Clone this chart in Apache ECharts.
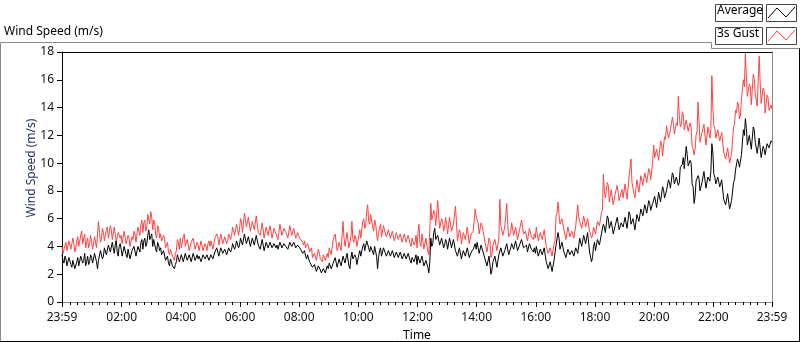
<!DOCTYPE html>
<html>
<head>
<meta charset="utf-8">
<script src="https://cdn.jsdelivr.net/npm/echarts@6/dist/echarts.min.js"></script>
<style>
html,body{margin:0;padding:0;background:#fff;overflow:hidden;}
#chart{width:800px;height:342px;}
</style>
</head>
<body>
<div id="chart"></div>
<script>
// Sampling grid: minutes since 00:00, first sample at 23:59 of the previous day, every 2 min
const sampleStartMin = -1;
const sampleStepMin = 2;

// Average wind speed (m/s), one row of 15 samples = 30 min
const avgSpeed = [
  3.4, 3.0, 2.8, 3.3, 3.1, 2.6, 2.6, 3.2, 3.3, 2.7, 2.5, 3.0, 2.9, 2.4, 2.3,
  2.9, 3.2, 2.6, 2.7, 3.3, 3.4, 2.8, 3.0, 3.5, 2.6, 2.9, 3.3, 2.7, 2.9, 3.4,
  3.2, 2.8, 2.9, 3.5, 3.4, 2.9, 2.4, 3.0, 3.1, 3.7, 3.6, 3.1, 3.3, 3.9, 4.0,
  3.4, 3.5, 4.1, 4.2, 3.6, 3.7, 4.3, 3.9, 3.5, 4.1, 4.4, 3.6, 3.3, 4.0, 4.2,
  3.8, 3.3, 3.4, 4.0, 3.9, 3.4, 3.2, 3.8, 3.7, 3.1, 3.0, 3.7, 3.6, 4.0, 3.9,
  3.3, 3.4, 4.0, 4.1, 3.6, 4.3, 4.5, 3.8, 4.4, 4.6, 4.0, 4.2, 4.8, 5.2, 4.5,
  4.7, 4.9, 4.0, 4.5, 4.4, 3.8, 3.6, 4.3, 4.1, 3.7, 3.9, 3.4, 3.3, 3.7, 3.6,
  3.0, 3.0, 3.3, 2.8, 2.6, 3.1, 2.9, 2.6, 2.5, 2.4, 2.7, 2.9, 3.4, 3.3, 2.9,
  3.0, 3.4, 3.4, 2.9, 2.9, 3.5, 3.5, 3.0, 3.1, 3.4, 3.3, 2.9, 3.0, 3.5, 3.4,
  3.0, 3.2, 3.4, 3.1, 3.3, 3.3, 2.9, 3.0, 3.4, 3.4, 3.1, 3.2, 3.4, 3.3, 3.0,
  3.1, 3.4, 3.4, 3.1, 3.2, 3.6, 3.5, 3.9, 3.8, 3.3, 3.4, 3.9, 3.9, 3.5, 3.6,
  3.8, 3.7, 3.4, 3.5, 3.9, 4.0, 3.6, 3.8, 4.2, 4.2, 3.8, 4.0, 4.4, 4.3, 3.9,
  4.1, 4.6, 4.5, 4.1, 4.2, 4.9, 4.9, 4.2, 4.3, 4.7, 4.6, 4.0, 4.0, 4.6, 4.5,
  4.1, 4.2, 4.8, 4.7, 4.1, 4.1, 3.8, 3.9, 4.5, 4.4, 3.7, 3.7, 4.3, 4.3, 3.9,
  4.0, 4.3, 4.3, 3.9, 3.9, 4.2, 4.2, 3.9, 4.1, 3.8, 3.8, 4.3, 4.3, 3.9, 4.0,
  4.2, 4.2, 4.0, 4.1, 3.8, 3.9, 4.3, 4.3, 4.0, 4.0, 4.3, 4.2, 3.9, 3.9, 4.1,
  4.0, 4.1, 3.8, 3.9, 3.5, 3.6, 3.7, 3.3, 3.1, 3.4, 3.3, 2.9, 2.8, 3.0, 2.5,
  2.4, 2.7, 2.6, 2.2, 2.3, 2.6, 2.5, 2.3, 2.1, 2.0, 2.4, 2.5, 2.1, 2.2, 2.6,
  2.4, 2.8, 2.9, 2.4, 2.3, 2.8, 2.7, 3.2, 3.1, 2.5, 2.5, 3.1, 3.0, 2.6, 2.6,
  3.3, 3.3, 2.8, 2.8, 3.5, 3.4, 2.6, 2.4, 3.2, 3.6, 3.1, 3.0, 3.4, 3.2, 2.7,
  2.8, 3.4, 3.7, 3.3, 3.3, 4.0, 4.2, 3.7, 3.8, 4.4, 4.5, 3.9, 3.6, 4.0, 4.1,
  3.6, 3.4, 4.0, 4.0, 3.3, 2.4, 3.2, 3.7, 3.9, 3.3, 3.4, 3.9, 4.0, 3.5, 3.3,
  3.2, 3.7, 3.8, 3.3, 3.4, 3.7, 3.6, 3.2, 3.1, 3.6, 3.7, 3.2, 3.3, 3.6, 3.5,
  3.1, 3.0, 3.5, 3.6, 3.1, 3.2, 3.5, 3.4, 3.0, 2.8, 3.2, 3.3, 2.9, 3.0, 3.4,
  2.7, 3.3, 3.4, 2.8, 2.9, 3.3, 3.2, 2.6, 2.5, 3.0, 3.1, 2.5, 2.1, 2.9, 4.6,
  4.0, 4.2, 5.0, 5.3, 4.5, 4.4, 4.8, 4.9, 4.1, 4.0, 4.6, 4.5, 3.9, 4.1, 4.5,
  4.3, 3.8, 3.9, 4.6, 4.5, 3.9, 4.0, 4.5, 4.4, 3.7, 3.7, 3.3, 3.3, 3.9, 3.8,
  3.1, 3.2, 3.7, 3.6, 3.3, 3.4, 3.9, 3.9, 3.2, 3.1, 3.6, 3.5, 3.8, 3.7, 4.2,
  3.8, 4.3, 4.2, 3.5, 3.5, 4.1, 4.0, 3.6, 3.6, 3.1, 3.0, 2.6, 2.7, 3.3, 3.2,
  2.0, 2.3, 2.9, 3.0, 3.3, 3.2, 2.5, 2.6, 3.4, 3.4, 3.9, 4.0, 3.3, 3.2, 3.7,
  3.7, 4.2, 4.1, 3.4, 3.5, 3.9, 4.2, 4.3, 3.8, 3.8, 4.4, 4.3, 3.7, 3.7, 4.1,
  4.1, 4.5, 4.4, 3.9, 3.8, 4.0, 4.1, 3.6, 3.5, 4.2, 4.3, 3.8, 3.7, 3.6, 3.9,
  3.5, 4.0, 3.9, 3.3, 3.3, 3.8, 3.7, 3.4, 3.4, 3.9, 3.8, 2.9, 2.9, 2.4, 2.5,
  2.9, 2.8, 2.2, 2.3, 3.0, 3.1, 4.1, 4.2, 5.0, 4.6, 3.8, 3.9, 4.3, 4.2, 3.6,
  3.6, 3.2, 3.1, 3.8, 3.8, 3.4, 3.3, 3.7, 3.8, 3.3, 3.3, 3.9, 3.9, 3.5, 3.5,
  4.6, 4.5, 4.0, 4.1, 4.8, 4.7, 4.2, 4.3, 5.0, 4.9, 3.6, 3.5, 2.9, 3.2, 4.0,
  4.3, 3.7, 3.6, 4.5, 4.4, 4.1, 4.2, 4.9, 5.0, 5.6, 5.4, 5.0, 5.1, 6.2, 6.0,
  5.3, 5.2, 5.8, 5.7, 4.9, 4.8, 5.5, 5.6, 6.1, 6.0, 5.2, 5.3, 5.7, 5.8, 5.4,
  5.4, 6.1, 6.0, 5.3, 5.4, 6.5, 6.3, 5.6, 5.7, 6.0, 6.1, 5.2, 5.3, 6.3, 6.2,
  5.8, 5.9, 6.7, 6.6, 6.2, 6.3, 7.0, 6.9, 6.4, 6.5, 7.3, 7.1, 6.6, 6.7, 7.1,
  7.0, 7.6, 7.5, 6.8, 6.9, 7.9, 7.8, 7.2, 7.3, 8.3, 8.1, 7.5, 7.6, 8.0, 8.1,
  8.8, 8.6, 8.2, 8.3, 9.3, 9.1, 8.5, 8.6, 9.0, 8.9, 8.4, 8.6, 9.7, 9.6, 9.9,
  10.4, 9.6, 9.7, 11.2, 10.6, 9.8, 9.9, 10.2, 10.0, 8.5, 8.3, 7.1, 7.6, 8.7, 8.8,
  9.1, 8.9, 8.0, 8.1, 8.6, 8.7, 9.4, 9.3, 8.2, 8.3, 9.0, 8.9, 8.7, 9.4, 11.4,
  10.8, 9.2, 9.0, 8.5, 8.6, 9.0, 9.1, 8.3, 8.4, 8.8, 8.7, 7.4, 7.3, 7.0, 7.1,
  7.8, 7.7, 6.7, 6.6, 7.3, 7.4, 8.6, 8.8, 9.5, 9.4, 10.3, 10.1, 9.7, 9.8, 10.6,
  10.6, 12.4, 12.0, 13.2, 12.5, 11.3, 11.4, 12.0, 11.9, 11.0, 11.1, 12.6, 12.4, 11.5, 11.6,
  10.7, 10.8, 11.8, 11.7, 10.4, 10.5, 11.2, 11.0, 10.6, 10.7, 11.4, 11.3, 11.1, 11.2, 11.6,
  11.5
];

// 3 s gust wind speed (m/s), one row of 15 samples = 30 min
const gustSpeed = [
  4.0, 3.5, 3.6, 4.1, 4.3, 3.7, 3.7, 4.4, 4.5, 3.8, 3.8, 4.6, 4.2, 3.6, 3.9,
  4.4, 4.7, 4.0, 4.1, 4.8, 5.1, 4.2, 4.3, 4.9, 3.9, 4.3, 4.6, 3.9, 4.2, 4.8,
  4.3, 3.8, 3.9, 4.7, 4.6, 3.9, 3.8, 5.8, 5.0, 4.3, 4.5, 5.3, 5.0, 4.4, 4.4,
  5.2, 5.4, 4.6, 4.7, 5.5, 5.2, 4.5, 4.6, 5.4, 4.9, 4.3, 4.4, 5.0, 5.1, 4.6,
  4.8, 4.2, 4.3, 5.1, 5.0, 4.2, 4.1, 4.8, 4.6, 4.0, 3.9, 4.7, 4.5, 5.1, 4.9,
  4.3, 4.4, 5.4, 5.3, 4.8, 5.6, 5.9, 5.0, 5.7, 5.9, 5.1, 5.4, 6.3, 6.2, 5.6,
  6.5, 6.1, 5.2, 5.9, 5.7, 4.8, 4.6, 5.5, 5.3, 4.6, 4.9, 4.4, 4.3, 4.8, 4.6,
  3.9, 3.9, 4.3, 3.6, 3.4, 3.8, 3.7, 3.3, 3.2, 3.0, 3.5, 3.7, 4.5, 4.3, 3.8,
  4.6, 3.9, 3.8, 4.7, 4.9, 4.0, 4.0, 4.5, 4.4, 3.7, 3.7, 4.3, 4.2, 4.6, 4.5,
  3.8, 3.9, 4.3, 4.1, 3.7, 3.8, 4.4, 4.3, 3.7, 3.6, 4.2, 4.0, 3.7, 4.2, 4.4,
  4.0, 4.4, 4.3, 3.8, 3.9, 4.6, 4.5, 4.9, 4.7, 4.1, 4.2, 4.9, 4.8, 4.2, 4.3,
  4.7, 4.6, 4.2, 4.4, 4.9, 5.0, 4.5, 4.8, 5.4, 5.5, 4.8, 4.9, 5.6, 5.3, 4.8,
  5.2, 6.0, 5.8, 5.0, 5.1, 6.4, 6.3, 5.4, 5.5, 6.1, 6.0, 5.1, 5.1, 5.8, 5.7,
  5.2, 5.3, 6.2, 6.1, 5.0, 5.0, 4.8, 4.9, 5.7, 5.6, 4.6, 4.7, 5.4, 5.3, 4.8,
  4.9, 5.5, 5.4, 4.6, 4.6, 5.3, 5.2, 4.9, 5.0, 4.5, 4.5, 5.6, 5.5, 4.8, 4.8,
  5.3, 5.3, 5.0, 5.1, 4.6, 4.7, 5.5, 5.4, 4.8, 4.9, 5.3, 5.2, 4.6, 4.6, 5.0,
  4.8, 4.6, 4.5, 4.7, 4.3, 4.1, 4.4, 3.9, 3.9, 4.2, 4.0, 3.6, 3.6, 3.9, 3.2,
  3.1, 3.5, 3.4, 3.0, 3.1, 3.8, 3.5, 3.1, 3.0, 2.9, 3.4, 3.4, 3.0, 3.0, 3.5,
  3.2, 3.9, 4.0, 3.4, 3.3, 4.5, 4.4, 4.9, 4.8, 3.7, 3.6, 4.3, 4.2, 3.7, 3.7,
  5.8, 4.6, 4.0, 4.1, 5.0, 4.9, 3.9, 3.9, 4.7, 5.8, 4.5, 4.3, 4.8, 4.6, 4.0,
  4.0, 4.8, 5.2, 4.6, 4.6, 5.8, 6.0, 5.3, 5.5, 6.6, 7.0, 5.8, 5.6, 6.3, 6.2,
  5.4, 5.1, 5.9, 5.7, 4.9, 4.4, 5.0, 5.3, 5.6, 4.7, 4.8, 5.5, 5.6, 4.9, 4.7,
  4.6, 5.2, 5.3, 4.6, 4.5, 5.1, 5.0, 4.4, 4.3, 5.0, 5.1, 4.5, 4.6, 4.9, 4.8,
  4.3, 4.2, 4.9, 5.0, 4.3, 4.4, 4.8, 4.9, 4.2, 4.0, 4.6, 4.7, 4.1, 4.3, 4.8,
  3.9, 5.0, 5.6, 4.2, 4.0, 4.9, 4.8, 3.8, 3.7, 4.6, 4.5, 3.6, 3.4, 5.2, 7.1,
  5.9, 5.8, 6.6, 6.3, 5.5, 5.5, 7.3, 6.2, 5.3, 5.2, 6.0, 5.8, 5.1, 5.4, 6.1,
  5.6, 4.9, 5.0, 6.1, 6.0, 5.1, 5.2, 5.6, 5.5, 6.9, 5.8, 4.4, 4.4, 5.2, 5.0,
  4.2, 4.3, 5.0, 4.9, 4.5, 4.6, 5.4, 5.3, 4.2, 4.1, 4.9, 4.8, 5.1, 5.0, 6.7,
  6.2, 5.9, 5.7, 4.9, 5.0, 5.7, 5.5, 5.1, 5.2, 4.3, 4.2, 3.6, 3.7, 4.6, 4.4,
  3.2, 3.4, 4.1, 4.2, 4.5, 4.4, 3.7, 3.8, 4.6, 7.4, 5.5, 5.6, 4.8, 4.7, 5.4,
  5.3, 7.1, 5.6, 4.7, 4.6, 5.0, 5.7, 5.8, 4.8, 4.7, 5.4, 5.5, 4.5, 4.6, 5.2,
  5.3, 5.9, 5.8, 4.9, 4.8, 5.1, 5.2, 4.4, 4.3, 5.3, 5.4, 4.7, 4.6, 4.5, 4.9,
  4.6, 5.4, 5.3, 4.4, 4.3, 5.0, 4.9, 4.5, 4.5, 5.2, 5.1, 4.0, 3.9, 3.5, 3.6,
  3.9, 3.8, 3.3, 3.4, 4.2, 4.4, 6.2, 6.4, 7.2, 6.3, 5.6, 5.7, 6.0, 6.1, 5.2,
  5.2, 4.5, 4.4, 5.4, 5.3, 4.7, 4.6, 5.1, 5.2, 4.6, 4.7, 5.5, 5.6, 7.0, 6.1,
  5.8, 5.7, 5.3, 5.4, 6.2, 6.1, 5.4, 5.5, 6.0, 6.1, 5.1, 4.9, 4.6, 4.8, 5.4,
  5.3, 4.9, 5.0, 5.8, 5.7, 5.5, 5.6, 6.4, 6.6, 9.2, 8.0, 7.5, 7.6, 8.6, 8.4,
  7.2, 7.1, 8.1, 8.0, 7.0, 7.1, 7.8, 7.9, 8.4, 8.3, 7.3, 7.4, 7.9, 8.1, 7.5,
  7.6, 8.5, 8.4, 7.4, 7.5, 9.0, 8.9, 10.3, 8.6, 8.2, 8.3, 7.5, 7.6, 8.8, 8.7,
  7.9, 8.0, 9.1, 9.0, 8.4, 8.5, 9.3, 9.2, 8.6, 8.7, 9.6, 9.4, 8.8, 8.9, 10.1,
  11.3, 10.4, 10.5, 11.0, 10.9, 10.2, 10.3, 11.6, 11.4, 10.5, 10.6, 11.9, 11.7, 12.7, 12.2,
  11.8, 11.9, 12.4, 12.3, 13.3, 12.8, 12.1, 12.2, 12.9, 12.7, 14.8, 13.4, 12.6, 12.8, 13.7,
  13.5, 12.4, 12.5, 13.1, 13.0, 12.3, 12.4, 12.9, 12.6, 11.2, 11.0, 10.6, 11.0, 12.0, 12.3,
  14.4, 13.0, 11.5, 11.6, 12.2, 12.3, 12.8, 12.7, 11.3, 11.4, 12.6, 12.5, 11.8, 12.5, 16.3,
  14.0, 12.7, 12.5, 11.8, 11.9, 12.4, 12.5, 11.6, 11.7, 12.2, 12.1, 10.8, 10.7, 10.3, 10.4,
  11.1, 11.0, 10.0, 10.1, 10.7, 10.8, 12.6, 12.8, 13.8, 13.6, 14.4, 14.2, 13.2, 13.4, 14.6,
  14.6, 16.0, 15.5, 17.9, 16.2, 14.8, 14.9, 15.7, 15.5, 14.2, 14.3, 16.4, 16.1, 15.0, 15.1,
  14.1, 14.2, 17.7, 15.8, 14.3, 14.4, 15.4, 15.2, 13.6, 13.7, 14.9, 14.7, 13.8, 13.9, 14.2,
  13.9
];

// Axis ticks (minutes since 00:00)
const xMajorTicks = [-1, 120, 240, 360, 480, 600, 720, 840, 960, 1080, 1200, 1320, 1439];
const xMajorLabels = ['23:59', '02:00', '04:00', '06:00', '08:00', '10:00', '12:00', '14:00', '16:00', '18:00', '20:00', '22:00', '23:59'];
const xMinorTicks = [0, 15, 30, 45, 60, 75, 90, 105, 135, 150, 165, 180, 195, 210, 225, 255, 270, 285, 300, 315, 330, 345,
  375, 390, 405, 420, 435, 450, 465, 495, 510, 525, 540, 555, 570, 585, 615, 630, 645, 660, 675, 690, 705,
  735, 750, 765, 780, 795, 810, 825, 855, 870, 885, 900, 915, 930, 945, 975, 990, 1005, 1020, 1035, 1050, 1065,
  1095, 1110, 1125, 1140, 1155, 1170, 1185, 1215, 1230, 1245, 1260, 1275, 1290, 1305, 1335, 1350, 1365, 1380, 1395, 1410, 1425];
const yMin = 0, yMax = 18, yStep = 2;

const seriesNames = ['Average', '3s Gust'];

const avgData = avgSpeed.map((v, i) => [sampleStartMin + i * sampleStepMin, v]);
const gustData = gustSpeed.map((v, i) => [sampleStartMin + i * sampleStepMin, v]);

const FONT = 'Noto Sans';
const chart = echarts.init(document.getElementById('chart'), null, { renderer: 'canvas' });

const labelMap = {};
xMajorTicks.forEach((t, i) => { labelMap[t] = xMajorLabels[i]; });

chart.setOption({
  animation: false,
  backgroundColor: '#ffffff',
  textStyle: { fontFamily: FONT },
  grid: { left: 62, top: 52, right: 28, bottom: 40, containLabel: false, outerBoundsMode: 'none' },
  xAxis: [
    {
      type: 'value', min: -1, max: 1439, position: 'bottom',
      name: 'Time', nameLocation: 'middle', nameGap: 28, nameMoveOverlap: false,
      nameTextStyle: { color: '#000', fontSize: 12, fontFamily: FONT },
      axisLine: { show: true, onZero: false, lineStyle: { color: '#8a8a8a', width: 1 } },
      axisTick: { show: true, customValues: xMajorTicks, length: 5, lineStyle: { color: '#000' } },
      axisLabel: { show: true, customValues: xMajorTicks, margin: 10, color: '#111', fontSize: 12, fontFamily: FONT,
        formatter: v => labelMap[v] !== undefined ? labelMap[v] : '' },
      splitLine: { show: false }
    },
    {
      type: 'value', min: -1, max: 1439, position: 'bottom', gridIndex: 0,
      axisLine: { show: false },
      axisTick: { show: true, customValues: xMinorTicks, length: 3, lineStyle: { color: '#000' } },
      axisLabel: { show: false },
      splitLine: { show: false }
    },
    {
      type: 'value', min: -1, max: 1439, position: 'top', gridIndex: 0,
      axisLine: { show: true, onZero: false, lineStyle: { color: '#000', width: 1 } },
      axisTick: { show: false }, axisLabel: { show: false }, splitLine: { show: false }
    }
  ],
  yAxis: [
    {
      type: 'value', min: yMin, max: yMax, interval: yStep, position: 'left',
      name: 'Wind Speed (m/s)', nameLocation: 'middle', nameGap: 24, nameMoveOverlap: false,
      nameTextStyle: { color: '#1f2d5a', fontSize: 12, fontFamily: FONT, padding: [0, 0, 0, 18] },
      axisLine: { show: true, onZero: false, lineStyle: { color: '#000', width: 1 } },
      axisTick: { show: true, length: 5, lineStyle: { color: '#000' } },
      axisLabel: { margin: 8, color: '#111', fontSize: 12, fontFamily: FONT },
      splitLine: { show: false }
    },
    {
      type: 'value', min: yMin, max: yMax, position: 'right',
      axisLine: { show: true, onZero: false, lineStyle: { color: '#8a8a8a', width: 1 } },
      axisTick: { show: false }, axisLabel: { show: false }, splitLine: { show: false }
    }
  ],
  series: [
    {
      name: seriesNames[1], type: 'line', data: gustData, xAxisIndex: 0, yAxisIndex: 0,
      showSymbol: false, symbol: 'none', sampling: false,
      lineStyle: { color: '#ff4242', width: 1 }, emphasis: { disabled: true }
    },
    {
      name: seriesNames[0], type: 'line', data: avgData, xAxisIndex: 0, yAxisIndex: 0,
      showSymbol: false, symbol: 'none', sampling: false,
      lineStyle: { color: '#000000', width: 1 }, emphasis: { disabled: true }
    }
  ],
  graphic: [
    { type: 'polyline', shape: { points: [[0.5, 341], [0.5, 42.5], [711.5, 42.5], [711.5, 48.5], [800, 48.5]] },
      style: { stroke: '#8a8a8a', fill: null, lineWidth: 1 }, silent: true },
    { type: 'polyline', shape: { points: [[799.5, 48.5], [799.5, 341.5], [0, 341.5]] },
      style: { stroke: '#000', fill: null, lineWidth: 1 }, silent: true },
    { type: 'text', left: 4, top: 26, style: { text: 'Wind Speed (m/s)', fontSize: 12, fontFamily: FONT, fill: '#000' } },
    { type: 'rect', shape: { x: 715.5, y: 4.5, width: 47, height: 17 }, style: { fill: '#fff', stroke: '#444', lineWidth: 1 } },
    { type: 'text', left: 717, top: 5, style: { text: seriesNames[0], fontSize: 12, fontFamily: FONT, fill: '#000' } },
    { type: 'rect', shape: { x: 766.5, y: 4.5, width: 30, height: 17 }, style: { fill: '#fff', stroke: '#444', lineWidth: 1 } },
    { type: 'polyline', shape: { points: [[768, 18], [777, 8], [786, 17], [795, 7]] }, style: { stroke: '#000', fill: null, lineWidth: 1 } },
    { type: 'rect', shape: { x: 715.5, y: 27.5, width: 47, height: 17 }, style: { fill: '#fff', stroke: '#444', lineWidth: 1 } },
    { type: 'text', left: 717, top: 28, style: { text: seriesNames[1], fontSize: 12, fontFamily: FONT, fill: '#000' } },
    { type: 'rect', shape: { x: 766.5, y: 27.5, width: 30, height: 17 }, style: { fill: '#fff', stroke: '#444', lineWidth: 1 } },
    { type: 'polyline', shape: { points: [[768, 41], [777, 31], [786, 40], [795, 30]] }, style: { stroke: '#ff4242', fill: null, lineWidth: 1 } }
  ]
});
</script>
</body>
</html>
